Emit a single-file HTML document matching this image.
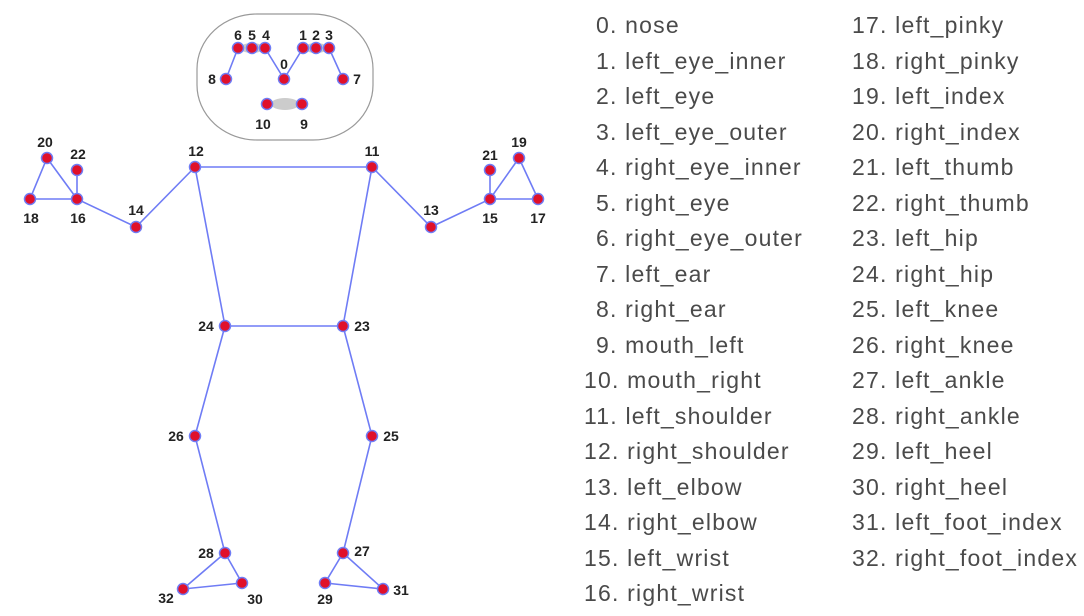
<!DOCTYPE html>
<html><head><meta charset="utf-8"><style>
body{margin:0;background:#fff;width:1084px;height:616px;overflow:hidden;position:relative;font-family:"Liberation Sans",sans-serif}
.l{position:absolute;font-size:23px;color:#4a4a4a;line-height:22px;white-space:nowrap;letter-spacing:1.2px}
</style></head><body>
<svg width="1084" height="616" style="position:absolute;left:0;top:0">
<rect x="197" y="14" width="176" height="126" rx="60" ry="55" fill="none" stroke="#999" stroke-width="1.2"/>
<g stroke="#6f7cf5" stroke-width="1.6" fill="none">
<polyline points="226,79 238,48 265,48 284,79 303,48 329,48 343,79"/>
<line x1="267" y1="104" x2="302" y2="104"/>
<polygon points="195,167 372,167 343,326 225,326"/>
<polyline points="195,167 136,227 77,199 30,199 47,158 77,199 77,170"/>
<polyline points="372,167 431,227 490,199 538,199 519,158 490,199 490,170"/>
<polyline points="225,326 195,436 225,553 242,583 183,589 225,553"/>
<polyline points="343,326 372,436 343,553 383,589 325,583 343,553"/>
</g>
<ellipse cx="252" cy="48" rx="12" ry="5" fill="#ccc"/>
<ellipse cx="316" cy="48" rx="12" ry="5" fill="#ccc"/>
<ellipse cx="285" cy="104" rx="14" ry="6" fill="#ccc"/>
<g fill="#e0102a" stroke="#6f7cf5" stroke-width="1.5">
<circle cx="238" cy="48" r="5.5"/><circle cx="252" cy="48" r="5.5"/><circle cx="265" cy="48" r="5.5"/>
<circle cx="303" cy="48" r="5.5"/><circle cx="316" cy="48" r="5.5"/><circle cx="329" cy="48" r="5.5"/>
<circle cx="284" cy="79" r="5.5"/><circle cx="226" cy="79" r="5.5"/><circle cx="343" cy="79" r="5.5"/>
<circle cx="267" cy="104" r="5.5"/><circle cx="302" cy="104" r="5.5"/>
<circle cx="47" cy="158" r="5.5"/><circle cx="77" cy="170" r="5.5"/><circle cx="30" cy="199" r="5.5"/><circle cx="77" cy="199" r="5.5"/>
<circle cx="136" cy="227" r="5.5"/><circle cx="195" cy="167" r="5.5"/><circle cx="372" cy="167" r="5.5"/><circle cx="431" cy="227" r="5.5"/>
<circle cx="490" cy="199" r="5.5"/><circle cx="490" cy="170" r="5.5"/><circle cx="519" cy="158" r="5.5"/><circle cx="538" cy="199" r="5.5"/>
<circle cx="225" cy="326" r="5.5"/><circle cx="343" cy="326" r="5.5"/><circle cx="195" cy="436" r="5.5"/><circle cx="372" cy="436" r="5.5"/>
<circle cx="225" cy="553" r="5.5"/><circle cx="343" cy="553" r="5.5"/><circle cx="183" cy="589" r="5.5"/><circle cx="242" cy="583" r="5.5"/>
<circle cx="325" cy="583" r="5.5"/><circle cx="383" cy="589" r="5.5"/>
</g>
<g font-family="Liberation Sans,sans-serif" font-size="14" font-weight="bold" fill="#222" text-anchor="middle">
<text x="238" y="40">6</text><text x="252" y="40">5</text><text x="266" y="40">4</text>
<text x="303" y="40">1</text><text x="316" y="40">2</text><text x="329" y="40">3</text>
<text x="284" y="69">0</text><text x="212" y="84">8</text><text x="357" y="84">7</text>
<text x="263" y="129">10</text><text x="304" y="129">9</text>
<text x="45" y="147">20</text><text x="78" y="159">22</text><text x="31" y="223">18</text><text x="78" y="223">16</text>
<text x="136" y="215">14</text><text x="196" y="156">12</text><text x="372" y="156">11</text><text x="431" y="215">13</text>
<text x="490" y="223">15</text><text x="490" y="160">21</text><text x="519" y="147">19</text><text x="538" y="223">17</text>
<text x="206" y="331">24</text><text x="362" y="331">23</text><text x="176" y="441">26</text><text x="391" y="441">25</text>
<text x="206" y="558">28</text><text x="362" y="556">27</text><text x="166" y="603">32</text><text x="255" y="604">30</text>
<text x="325" y="604">29</text><text x="401" y="595">31</text>
</g>
</svg>
<div class="l" style="left:596px;top:14px">0. nose</div>
<div class="l" style="left:596px;top:50px">1. left_eye_inner</div>
<div class="l" style="left:596px;top:85px">2. left_eye</div>
<div class="l" style="left:596px;top:121px">3. left_eye_outer</div>
<div class="l" style="left:596px;top:156px">4. right_eye_inner</div>
<div class="l" style="left:596px;top:192px">5. right_eye</div>
<div class="l" style="left:596px;top:227px">6. right_eye_outer</div>
<div class="l" style="left:596px;top:263px">7. left_ear</div>
<div class="l" style="left:596px;top:298px">8. right_ear</div>
<div class="l" style="left:596px;top:334px">9. mouth_left</div>
<div class="l" style="left:584px;top:369px">10. mouth_right</div>
<div class="l" style="left:584px;top:405px">11. left_shoulder</div>
<div class="l" style="left:584px;top:440px">12. right_shoulder</div>
<div class="l" style="left:584px;top:476px">13. left_elbow</div>
<div class="l" style="left:584px;top:511px">14. right_elbow</div>
<div class="l" style="left:584px;top:547px">15. left_wrist</div>
<div class="l" style="left:584px;top:582px">16. right_wrist</div>
<div class="l" style="left:852px;top:14px">17. left_pinky</div>
<div class="l" style="left:852px;top:50px">18. right_pinky</div>
<div class="l" style="left:852px;top:85px">19. left_index</div>
<div class="l" style="left:852px;top:121px">20. right_index</div>
<div class="l" style="left:852px;top:156px">21. left_thumb</div>
<div class="l" style="left:852px;top:192px">22. right_thumb</div>
<div class="l" style="left:852px;top:227px">23. left_hip</div>
<div class="l" style="left:852px;top:263px">24. right_hip</div>
<div class="l" style="left:852px;top:298px">25. left_knee</div>
<div class="l" style="left:852px;top:334px">26. right_knee</div>
<div class="l" style="left:852px;top:369px">27. left_ankle</div>
<div class="l" style="left:852px;top:405px">28. right_ankle</div>
<div class="l" style="left:852px;top:440px">29. left_heel</div>
<div class="l" style="left:852px;top:476px">30. right_heel</div>
<div class="l" style="left:852px;top:511px">31. left_foot_index</div>
<div class="l" style="left:852px;top:547px">32. right_foot_index</div>
</body></html>
